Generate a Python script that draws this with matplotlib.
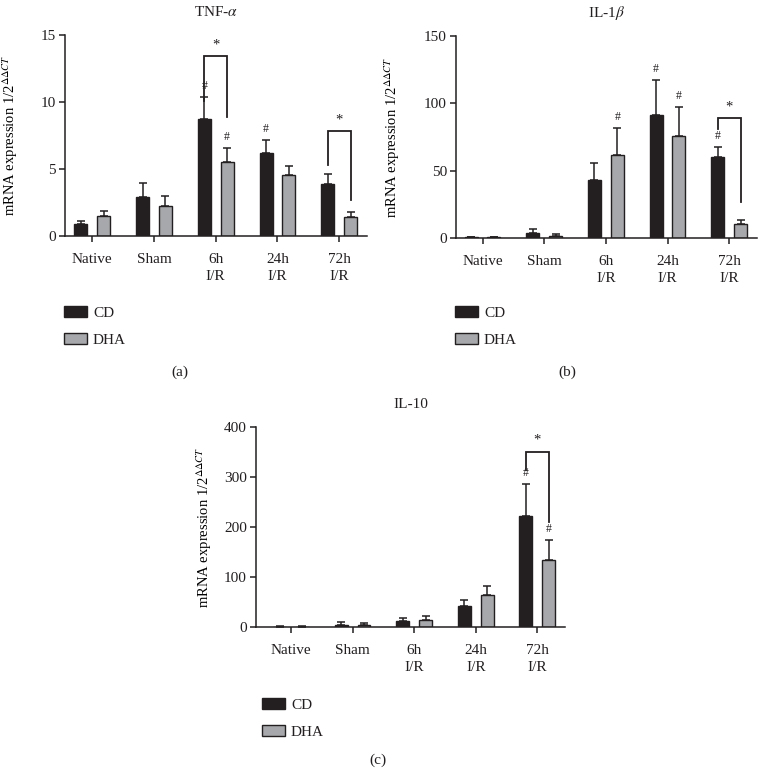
import numpy as np
import matplotlib.pyplot as plt
from matplotlib.patches import Patch

plt.rcParams['font.family'] = ['Liberation Serif', 'DejaVu Serif']
plt.rcParams['mathtext.fontset'] = 'stix'
plt.rcParams['font.size'] = 11
plt.rcParams['text.color'] = '#231f20'
plt.rcParams['axes.edgecolor'] = '#231f20'
plt.rcParams['xtick.color'] = '#231f20'
plt.rcParams['ytick.color'] = '#231f20'

# categories
groups = ['Native', 'Sham', '6h\nI/R', '24h\nI/R', '72h\nI/R']

# TNF-alpha
tnf_cd = [0.9, 2.9, 8.75, 6.17, 3.88]
tnf_cd_err = [0.2, 1.03, 1.62, 1.02, 0.72]
tnf_dha = [1.47, 2.24, 5.5, 4.57, 1.44]
tnf_dha_err = [0.37, 0.76, 1.09, 0.68, 0.33]

# IL-1beta
il1_cd = [0.8, 4.0, 42.7, 91.7, 59.8]
il1_cd_err = [0.3, 2.7, 13.3, 25.8, 7.9]
il1_dha = [0.7, 1.8, 62.0, 75.6, 10.7]
il1_dha_err = [0.3, 0.9, 19.8, 21.8, 3.0]

# IL-10
il10_cd = [1.0, 4.6, 11.3, 42.7, 222.7]
il10_cd_err = [0.5, 5.4, 6.7, 12.0, 64.0]
il10_dha = [1.0, 3.3, 14.7, 63.3, 133.3]
il10_dha_err = [0.5, 4.7, 6.6, 19.4, 40.0]

# significance marks: (group, series 0=CD 1=DHA)
tnf_hash = [(2, 0), (2, 1), (3, 0)]
il1_hash = [(2, 1), (3, 0), (3, 1), (4, 0)]
il10_hash = [(4, 0), (4, 1)]
# brackets: (group, top, left leg end, right leg end)
tnf_brackets = [(2, 13.4, 10.1, 8.9), (4, 7.85, 5.3, 2.7)]
il1_brackets = [(4, 88.8, 81.3, 26.8)]
il10_brackets = [(4, 351, 314.7, 211)]

CD_COL = '#231f20'
DHA_COL = '#a6a8ab'
W, H = 758, 771
fig = plt.figure(figsize=(W / 100, H / 100), dpi=100)


def px_axes(left, right, top, bottom):
    return fig.add_axes([left / W, (H - bottom) / H, (right - left) / W, (bottom - top) / H])


def panel(ax, title, cd, cd_err, dha, dha_err, ymax, yticks, xlim, hashes, brackets, ylab_x):
    x = np.arange(len(groups))
    off, bw = 0.185, 0.21
    for xs, vals, errs, col in [(x - off, cd, cd_err, CD_COL), (x + off, dha, dha_err, DHA_COL)]:
        ax.bar(xs, vals, width=bw, color=col, edgecolor=CD_COL, linewidth=1.0, zorder=2)
        ax.errorbar(xs, vals, yerr=[np.zeros(len(vals)), errs], fmt='none', ecolor=CD_COL,
                    elinewidth=1.1, capsize=3, capthick=1.1, zorder=1)
    tops = [np.array(cd) + np.array(cd_err), np.array(dha) + np.array(dha_err)]
    for g, s in hashes:
        xx = g - off if s == 0 else g + off
        ax.annotate('#', (xx, tops[s][g]), xytext=(0, 8), textcoords='offset points',
                    ha='center', va='center', fontsize=8.5)
    for g, top, l_end, r_end in brackets:
        ax.plot([g - off, g - off, g + off, g + off], [l_end, top, top, r_end],
                color=CD_COL, lw=1.3, solid_joinstyle='miter', clip_on=False)
        ax.annotate('*', (g, top), xytext=(0, 8), textcoords='offset points',
                    ha='center', va='center', fontsize=10.5)
    ax.set_xlim(*xlim)
    ax.set_ylim(0, ymax)
    ax.set_yticks(yticks)
    ax.set_xticks(x)
    ax.set_xticklabels(groups, linespacing=1.35)
    for s in ['top', 'right']:
        ax.spines[s].set_visible(False)
    for s in ['left', 'bottom']:
        ax.spines[s].set_linewidth(1.1)
    ax.tick_params(axis='both', length=4.5, width=1.1, labelsize=11)
    ax.tick_params(axis='x', pad=8)
    ax.tick_params(axis='y', pad=2)
    ax.set_title(title, fontsize=11, pad=14)
    ax.set_ylabel(r'mRNA expression 1/2$^{\Delta\Delta CT}$', fontsize=10.5)
    ax.yaxis.set_label_coords(ylab_x, 0.5)


ax_a = px_axes(65, 367, 35, 236)
panel(ax_a, r'TNF-$\alpha$', tnf_cd, tnf_cd_err, tnf_dha, tnf_dha_err, 15, [0, 5, 10, 15],
      (-0.44, 4.45), tnf_hash, tnf_brackets, -0.15)
ax_b = px_axes(456, 757, 36, 238)
panel(ax_b, r'IL-1$\beta$', il1_cd, il1_cd_err, il1_dha, il1_dha_err, 150, [0, 50, 100, 150],
      (-0.43, 4.45), il1_hash, il1_brackets, -0.18)
ax_c = px_axes(256, 565, 427, 627)
panel(ax_c, 'IL-10', il10_cd, il10_cd_err, il10_dha, il10_dha_err, 400, [0, 100, 200, 300, 400],
      (-0.57, 4.45), il10_hash, il10_brackets, -0.135)

handles = [Patch(facecolor=CD_COL, edgecolor=CD_COL, linewidth=1.0),
           Patch(facecolor=DHA_COL, edgecolor=CD_COL, linewidth=1.0)]
for lx, ly in [(64, 306), (455, 306), (262, 698)]:
    fig.legend(handles, ['CD', 'DHA'], loc='upper left', bbox_to_anchor=(lx / W, (H - ly) / H),
               frameon=False, fontsize=11, handlelength=1.5, handleheight=0.75,
               handletextpad=0.4, labelspacing=0.85, borderpad=0, borderaxespad=0)

for lab, lx, ly in [('(a)', 180, 372), ('(b)', 567, 372), ('(c)', 378, 760)]:
    fig.text(lx / W, (H - ly) / H, lab, ha='center', va='center', fontsize=11)

fig.savefig('out.png', dpi=100)
